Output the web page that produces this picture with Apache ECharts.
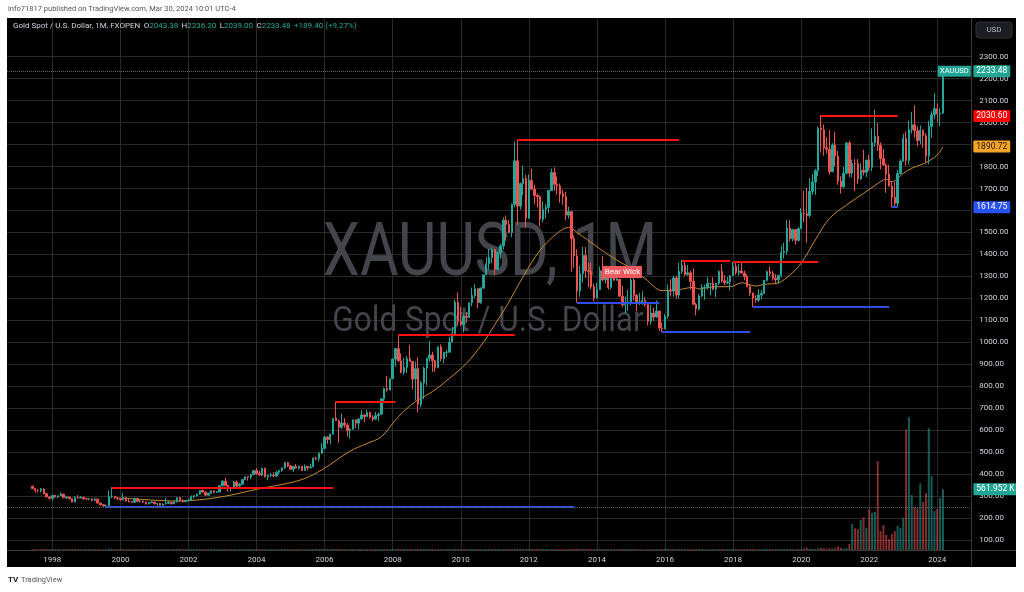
<!DOCTYPE html>
<html><head><meta charset="utf-8">
<script src="https://cdn.jsdelivr.net/npm/echarts@6/dist/echarts.min.js"></script>
<style>html,body{margin:0;padding:0;background:#fff}#c{width:1024px;height:592px}</style>
</head><body><div id="c"></div><script>
// ---------- DATA ----------
const axisStart = '1996-09', axisEnd = '2025-01';
const firstDataMonth = '1997-06';
const yearLabels = ['1998','2000','2002','2004','2006','2008','2010','2012','2014','2016','2018','2020','2022','2024'];
const priceTicks = [100,200,300,400,500,600,700,800,900,1000,1100,1200,1300,1400,1500,1600,1700,1800,1900,2000,2100,2200,2300];
const firstOpen = 345;
const closes = [
 334,326,325,332,311,296,290,
 303,297,301,309,293,296,288,273,294,292,294,288,
 287,287,280,286,268,261,255,255,299,299,292,290,
 283,293,277,274,272,289,276,277,273,264,270,273,
 265,267,258,264,267,271,265,273,293,279,275,279,
 282,297,302,309,326,318,304,313,324,316,318,347,
 368,348,336,339,364,346,354,375,388,386,398,416,
 402,396,426,388,394,395,391,408,416,429,452,438,
 422,435,428,436,417,435,429,433,473,470,495,517,
 569,557,582,654,643,613,633,623,599,604,646,632,
 651,669,662,680,659,650,666,673,743,789,783,834,
 923,971,916,864,886,925,912,833,880,718,815,882,
 927,942,916,884,979,926,954,955,1001,1040,1182,1096,
 1081,1118,1113,1180,1213,1244,1181,1247,1307,1357,1386,1421,
 1332,1409,1439,1556,1536,1500,1628,1826,1620,1722,1746,1565,
 1737,1697,1668,1663,1560,1604,1614,1691,1773,1719,1712,1675,
 1663,1579,1595,1472,1393,1234,1312,1395,1326,1323,1253,1202,
 1240,1326,1284,1296,1250,1327,1282,1287,1210,1171,1182,1184,
 1283,1213,1183,1183,1190,1172,1095,1133,1115,1142,1065,1061,
 1118,1238,1233,1293,1215,1322,1351,1309,1316,1277,1173,1152,
 1211,1249,1249,1268,1268,1242,1269,1322,1280,1271,1275,1303,
 1345,1318,1325,1315,1299,1253,1224,1201,1192,1215,1222,1282,
 1321,1313,1292,1284,1305,1409,1414,1520,1472,1513,1464,1517,
 1589,1585,1577,1687,1730,1781,1975,1967,1886,1879,1776,1898,
 1847,1734,1707,1769,1907,1770,1814,1813,1743,1783,1774,1829,
 1797,1909,1937,1897,1837,1807,1766,1711,1660,1633,1768,1824,
 1928,1827,1969,1990,1963,1919,1965,1940,1849,1983,2036,2063,
 2039,2043.38,2233.48
];
const highs = [
 348,335,331,337,336,313,299,
 305,305,302,316,310,300,297,289,300,304,300,297,
 292,291,290,292,290,268,264,261,326,340,300,296,
 293,313,296,285,278,293,292,281,278,275,272,276,
 275,268,270,266,292,279,272,280,294,294,285,281,
 288,303,303,311,328,330,322,315,327,325,323,349,
 372,383,352,341,368,372,360,376,390,392,399,417,
 427,415,428,430,397,405,409,416,418,430,455,456,
 440,438,446,438,437,444,438,448,475,479,498,541,
 571,574,584,655,730,648,675,655,632,609,650,649,
 655,691,672,693,684,668,683,680,744,794,847,835,
 929,975,1033,950,929,937,988,912,912,932,823,888,
 930,1006,957,920,980,990,958,965,1025,1070,1195,1227,
 1162,1128,1135,1180,1249,1265,1246,1249,1307,1387,1424,1432,
 1424,1411,1447,1569,1577,1556,1632,1913,1920,1727,1803,1763,
 1764,1791,1718,1676,1668,1641,1628,1693,1790,1796,1755,1723,
 1695,1685,1617,1598,1487,1424,1348,1434,1434,1362,1361,1267,
 1270,1345,1392,1331,1315,1332,1346,1325,1288,1256,1209,1239,
 1307,1308,1220,1224,1232,1205,1174,1170,1157,1191,1142,1089,
 1128,1263,1287,1303,1304,1362,1375,1367,1352,1326,1337,1180,
 1219,1264,1262,1296,1270,1296,1270,1326,1357,1306,1298,1306,
 1366,1362,1356,1365,1326,1309,1266,1226,1214,1243,1237,1284,
 1326,1346,1324,1310,1306,1439,1453,1555,1557,1517,1516,1524,
 1611,1689,1703,1747,1765,1789,1981,2033,1992,1933,1966,1906,
 1959,1872,1756,1798,1913,1917,1832,1834,1834,1814,1877,1831,
 1853,1974,2058,1998,1910,1879,1814,1808,1735,1730,1786,1833,
 1949,1960,2009,2049,2079,1983,1987,1968,1953,2009,2052,2135,
 2088,2065,2236.20
];
const lows = [
 333,315,317,316,307,294,283,
 278,292,290,300,290,287,286,272,272,288,290,283,
 283,282,277,278,267,257,253,251,254,290,288,280,
 280,280,276,272,268,270,274,270,269,262,263,268,
 262,255,256,254,262,264,262,263,271,274,270,271,
 276,281,289,298,306,315,302,302,311,313,314,318,
 347,344,320,321,336,340,342,350,372,370,377,398,
 397,393,391,385,372,386,387,387,398,411,423,432,
 420,410,426,421,414,414,417,428,432,463,458,491,
 517,538,536,579,642,543,606,611,572,562,603,610,
 603,648,637,660,652,640,648,641,671,723,775,781,
 833,890,910,859,852,859,910,786,735,681,705,742,
 804,911,865,866,883,913,904,932,953,1001,1038,1075,
 1075,1045,1088,1111,1164,1202,1155,1175,1242,1306,1331,1360,
 1308,1327,1381,1423,1462,1496,1478,1614,1535,1604,1669,1523,
 1563,1696,1628,1614,1527,1547,1565,1588,1689,1690,1672,1635,
 1626,1555,1563,1321,1339,1180,1207,1273,1292,1251,1242,1187,
 1202,1238,1278,1268,1240,1241,1280,1281,1206,1161,1131,1142,
 1167,1190,1142,1170,1170,1162,1077,1080,1098,1110,1052,1046,
 1061,1107,1208,1207,1199,1199,1310,1301,1303,1241,1171,1123,
 1145,1206,1194,1241,1214,1237,1205,1261,1272,1260,1264,1236,
 1302,1307,1303,1314,1282,1251,1211,1160,1180,1183,1196,1221,
 1276,1302,1281,1266,1266,1295,1382,1400,1459,1459,1445,1459,
 1517,1548,1451,1568,1671,1671,1757,1863,1849,1860,1764,1775,
 1802,1717,1677,1705,1765,1751,1750,1688,1721,1741,1759,1753,
 1781,1779,1890,1872,1787,1805,1681,1709,1614.75,1618,1617,1765,
 1823,1804,1809,1950,1932,1893,1902,1885,1816,1810,1931,2017,
 2002,1984,2039.00
];
const volumes = [
 8000,9000,7000,8000,10000,9000,8000,
 9000,8000,9000,7000,8000,9000,8000,9000,10000,9000,8000,7000,
 8000,9000,8000,9000,8000,7000,8000,9000,12000,11000,9000,8000,
 9000,10000,8000,8000,7000,9000,8000,8000,9000,8000,8000,9000,
 8000,8000,9000,8000,9000,8000,8000,9000,10000,9000,8000,8000,
 9000,9000,8000,9000,10000,9000,8000,8000,9000,8000,8000,9000,
 10000,9000,9000,8000,9000,8000,8000,9000,9000,8000,9000,9000,
 9000,9000,9000,9000,8000,8000,8000,9000,8000,9000,9000,8000,
 8000,8000,9000,8000,8000,9000,8000,8000,9000,9000,9000,10000,
 10000,9000,9000,10000,11000,10000,9000,8000,9000,9000,9000,8000,
 9000,9000,8000,9000,8000,8000,9000,9000,10000,10000,10000,9000,
 10000,10000,11000,9000,9000,9000,10000,10000,11000,12000,10000,9000,
 10000,10000,9000,9000,9000,9000,8000,8000,9000,9000,10000,10000,
 9000,9000,9000,9000,10000,9000,9000,9000,9000,10000,10000,9000,
 9000,9000,9000,10000,9000,9000,10000,12000,12000,10000,10000,10000,
 10000,9000,9000,9000,9000,9000,9000,9000,10000,9000,9000,9000,
 9000,9000,9000,11000,10000,11000,9000,9000,9000,9000,9000,9000,
 9000,9000,9000,8000,8000,9000,8000,8000,9000,9000,9000,9000,
 9000,9000,9000,8000,8000,8000,9000,8000,8000,9000,9000,9000,
 9000,10000,9000,9000,9000,10000,9000,9000,9000,9000,10000,9000,
 9000,9000,8000,8000,8000,8000,8000,8000,9000,8000,8000,8000,
 9000,9000,8000,8000,8000,9000,8000,9000,8000,8000,8000,9000,
 9000,9000,8000,8000,8000,10000,9000,11000,10000,9000,9000,9000,
 10000,14000,22000,12000,11000,10000,16000,20000,16000,12000,18000,14000,
 16000,30000,22000,14000,16000,55000,241000,201000,192000,278000,303000,206000,
 377000,343000,352000,824000,176000,231000,139000,102000,148000,176000,225000,204000,
 299000,1117000,1229000,509000,401000,392000,617000,444000,525000,1129000,685000,361000,
 380000,481000,561952
];
const maMonths = ['2000-02','2000-08','2001-03','2001-09','2002-04','2002-11','2003-06','2003-12','2004-06','2004-12','2005-06','2005-12','2006-05','2006-10','2007-04','2007-09','2008-03','2008-09','2009-03','2009-09','2010-03','2010-09','2011-01','2011-05','2011-11','2012-05','2012-11','2013-03','2013-06','2014-01','2014-07','2014-12','2015-06','2015-12','2016-06','2016-11','2017-01','2017-07','2017-12','2018-04','2018-09','2018-12','2019-05','2019-09','2020-01','2020-06','2020-11','2021-05','2021-11','2022-05','2022-07','2022-09','2023-01','2023-04','2023-09','2024-01','2024-03'];
const maValues = [291,285,280,277,282,293,310,328,343,358,380,419,462,505,540,570,661,730,775,836,904,1000,1080,1162,1299,1420,1496,1523,1500,1435,1382,1344,1290,1235,1240,1250,1243,1253,1253,1271,1256,1264,1271,1306,1360,1466,1564,1625,1678,1731,1742,1731,1769,1792,1818,1853,1890.72];
// drawn horizontal levels: [from, to, price, kind]
const levels = [
 ['1999-10','2006-04',340,'res'],
 ['1999-08','2013-05',251,'sup'],
 ['2006-05','2008-02',730,'res'],
 ['2008-03','2011-08',1033,'res'],
 ['2011-09','2016-06',1920,'res'],
 ['2013-06','2015-11',1180,'sup'],
 ['2015-12','2018-07',1046,'sup'],
 ['2016-07','2017-12',1373,'res'],
 ['2018-01','2020-07',1366,'res'],
 ['2018-08','2022-08',1160,'sup'],
 ['2020-08','2022-11',2030.60,'res'],
 ['2022-09','2022-11',1614.75,'sup']
];
const lastPrice = 2233.48, maLast = 1890.72, lastVolume = 561952;
const bearWick = ['2014-10', 1320, 'Bear Wick'];
const dottedLevel = 251;

// ---------- BUILD ----------
function ym(s){const p=s.split('-');return [+p[0],+p[1]];}
function fmt(y,m){return y+'-'+(m<10?'0':'')+m;}
const categories=[];
{let [y,m]=ym(axisStart);const [ey,em]=ym(axisEnd);
 while(y<ey||(y===ey&&m<=em)){categories.push(fmt(y,m));m++;if(m>12){m=1;y++;}}}
const startIdx=categories.indexOf(firstDataMonth);
const candleData=[], volData=[];
closes.forEach((c,i)=>{
  const o = i===0?firstOpen:closes[i-1];
  const cat=categories[startIdx+i];
  candleData.push([cat,o,c,lows[i],highs[i]]);
  const up=c>=o;
  volData.push({value:[cat,volumes[i]],itemStyle:{color: up?'rgba(38,166,154,0.55)':'rgba(239,83,80,0.55)'}});
});
const maData=maMonths.map((m,i)=>[m,maValues[i]]);
const isYearTick=(i,v)=>v.slice(5)==='01'&&yearLabels.indexOf(v.slice(0,4))>=0;

const RED='#ff1111', BLUE='#2d4fe6', GREEN='#22a594';
const segs=levels.map(l=>[
  {coord:[l[0],l[2]],lineStyle:{color:l[3]==='res'?RED:BLUE,width:2,type:'solid'},label:{show:false}},
  {coord:[l[1],l[2]]}
]);
function tag(v,bg,fg,text,ls){
  return {yAxis:v,lineStyle:ls||{color:'rgba(0,0,0,0)',width:1},
    label:{show:true,position:'end',distance:2,formatter:text,backgroundColor:bg,color:fg,
      padding:[2,3,1,3],fontSize:8.5,fontFamily:'Roboto, sans-serif',borderRadius:1}};
}
const chart=echarts.init(document.getElementById('c'),null,{renderer:'canvas'});
chart.setOption({
  animation:false,
  backgroundColor:'#000',
  grid:{left:6.92,right:52.67,top:18,bottom:42},
  xAxis:{type:'category',data:categories,boundaryGap:false,
    axisLine:{show:false},axisTick:{show:false},
    axisLabel:{interval:isYearTick,formatter:v=>v.slice(0,4),color:'#d1d4dc',fontSize:8,margin:6,fontFamily:'Roboto, sans-serif'},
    splitLine:{show:true,interval:isYearTick,lineStyle:{color:'#2a2a2a',width:1}}},
  yAxis:[
    {type:'value',position:'right',min:54.5,max:2476.2,scale:true,
     axisLine:{show:false},
     axisTick:{show:false,customValues:priceTicks},
     axisLabel:{customValues:priceTicks,formatter:v=>v.toFixed(2),color:'#d1d4dc',fontSize:8,margin:8,fontFamily:'Roboto, sans-serif'},
     splitLine:{show:true,lineStyle:{color:'#2a2a2a',width:1}}},
    {type:'value',position:'right',min:0,max:4925000,show:false,splitLine:{show:false}}
  ],
  series:[
    {type:'bar',name:'vol',yAxisIndex:1,data:volData,barWidth:2,silent:true,z:1,
     markLine:{symbol:['none','none'],silent:true,animation:false,
       data:[tag(lastVolume,GREEN,'#fff','561.952 K')]}},
    {type:'candlestick',name:'XAUUSD',data:candleData,encode:{x:0,y:[1,2,3,4]},barWidth:1.9,silent:true,z:3,
     itemStyle:{color:'#26a69a',color0:'#ef5350',borderColor:'#26a69a',borderColor0:'#ef5350',borderWidth:1},
     markLine:{symbol:['none','none'],silent:true,animation:false,lineStyle:{type:'solid'},
       data:[...segs,
         {yAxis:dottedLevel,lineStyle:{color:'#5d606b',type:'dotted',width:1},label:{show:false}},
         tag(lastPrice,GREEN,'#fff','2233.48',{color:'#6a6d78',type:'dotted',width:1}),
         tag(2030.60,'#ff0000','#fff','2030.60'),
         tag(maLast,'#f7a325','#131722','1890.72'),
         tag(1614.75,'#2952f5','#fff','1614.75')
       ]},
     markPoint:{silent:true,animation:false,data:[
       {coord:[bearWick[0],bearWick[1]],symbol:'rect',symbolSize:[39,12],itemStyle:{color:'#f05a5f'},
        label:{show:true,position:'inside',formatter:bearWick[2],color:'#fff',fontSize:8,fontFamily:'Roboto, sans-serif'}},
       {coord:[axisEnd,lastPrice],symbol:'rect',symbolSize:[33,11],symbolOffset:[-17,0],itemStyle:{color:GREEN},
        label:{show:true,position:'inside',formatter:'XAUUSD',color:'#fff',fontSize:7.5,fontFamily:'Roboto, sans-serif'}}
     ]}},
    {type:'line',name:'MA',data:maData,smooth:0.35,symbol:'none',silent:true,z:2,
     lineStyle:{color:'#c98a2b',width:1}}
  ],
  graphic:[
    {type:'text',x:490,y:256,z:1,scaleX:0.8,style:{text:'XAUUSD, 1M',fontSize:74,fontFamily:'Roboto, sans-serif',fill:'#43454b',align:'center',verticalAlign:'middle',textAlign:'center',textVerticalAlign:'middle'}},
    {type:'text',x:488,y:322,z:1,scaleX:0.9,style:{text:'Gold Spot / U.S. Dollar',fontSize:35,fontFamily:'Roboto, sans-serif',fill:'#43454b',align:'center',verticalAlign:'middle',textAlign:'center',textVerticalAlign:'middle'}},
    {type:'rect',z:100,shape:{x:0,y:0,width:1024,height:18},style:{fill:'#fff'}},
    {type:'rect',z:100,shape:{x:0,y:567,width:1024,height:25},style:{fill:'#fff'}},
    {type:'rect',z:100,shape:{x:0,y:0,width:7,height:592},style:{fill:'#fff'}},
    {type:'rect',z:100,shape:{x:1016,y:0,width:8,height:592},style:{fill:'#fff'}},
    {type:'line',z:90,shape:{x1:971.5,y1:18,x2:971.5,y2:567},style:{stroke:'#3a3a3a',lineWidth:1}},
    {type:'line',z:90,shape:{x1:7,y1:550.5,x2:1016,y2:550.5},style:{stroke:'#3a3a3a',lineWidth:1}},
    {type:'rect',z:95,shape:{x:976,y:22,width:36,height:16,r:3},style:{fill:'#1c1d22',stroke:'#2e2f35'}},
    {type:'text',z:96,x:994,y:30,style:{text:'USD',fontSize:8,fill:'#b2b5be',fontFamily:'Roboto, sans-serif',align:'center',verticalAlign:'middle',textAlign:'center',textVerticalAlign:'middle'}},
    {type:'text',z:101,x:8,y:9,style:{text:'info71817 published on TradingView.com, Mar 30, 2024 10:01 UTC-4',fontSize:7.5,fill:'#555',fontFamily:'Roboto, sans-serif',verticalAlign:'middle',textVerticalAlign:'middle'}},
    {type:'text',z:96,x:13,y:26,style:{
      text:'{n|Gold Spot / U.S. Dollar, 1M, FXOPEN} {k|O}{v|2043.38} {k|H}{v|2236.20} {k|L}{v|2039.00} {k|C}{v|2233.48} {v|+189.40 (+9.27%)}',
      verticalAlign:'middle',textVerticalAlign:'middle',
      rich:{n:{fontSize:8,fill:'#d1d4dc',color:'#d1d4dc',fontFamily:'Roboto, sans-serif'},
            k:{fontSize:8,fill:'#d1d4dc',color:'#d1d4dc',fontFamily:'Roboto, sans-serif'},
            v:{fontSize:8,fill:'#22ab94',color:'#22ab94',fontFamily:'Roboto, sans-serif'}}}},
    {type:'text',z:101,x:8,y:580,style:{text:'TV',fontSize:8,fontWeight:'bold',fill:'#131722',fontFamily:'Roboto, sans-serif',verticalAlign:'middle',textVerticalAlign:'middle'}},
    {type:'text',z:101,x:21,y:580,style:{text:'TradingView',fontSize:7.5,fill:'#555',fontFamily:'Roboto, sans-serif',verticalAlign:'middle',textVerticalAlign:'middle'}}
  ]
});
</script></body></html>
